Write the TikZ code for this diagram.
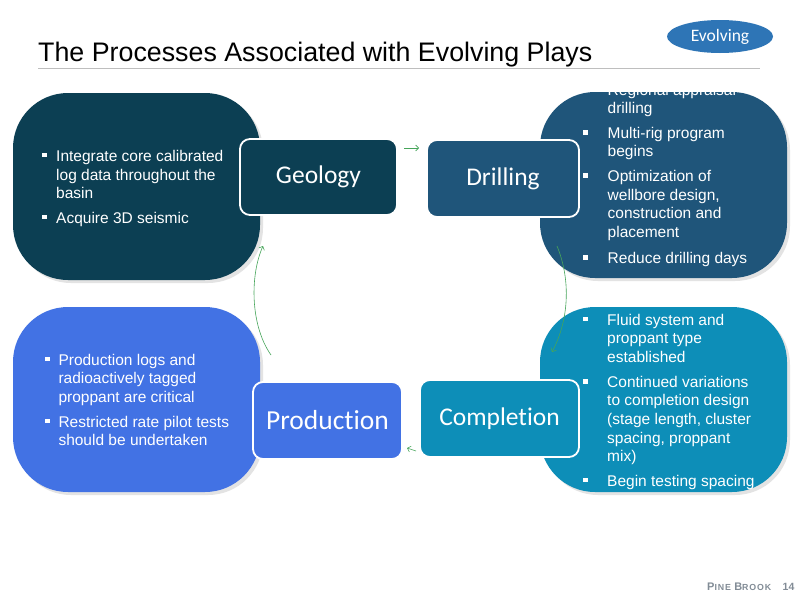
\documentclass[tikz,border=0pt]{standalone}
\usepackage{fontspec}
\setmainfont{Liberation Sans}
\newfontfamily\labfont[Ligatures=NoCommon]{Carlito}
\newfontfamily\footfont[LetterSpace=10]{Liberation Sans}
\usetikzlibrary{shadows,arrows.meta,shapes.geometric}
\definecolor{geoc}{RGB}{12,63,83}
\definecolor{drlc}{RGB}{31,85,122}
\definecolor{cmpc}{RGB}{13,142,184}
\definecolor{prdc}{RGB}{66,114,228}
\definecolor{evoc}{RGB}{46,117,182}
\definecolor{arrc}{RGB}{70,165,90}
\definecolor{rulec}{RGB}{190,190,190}
\definecolor{footc}{RGB}{130,140,150}
\newcommand\blines[4]{%
  \foreach \ln [count=\k from 0] in {#4}{%
    \node[bodytxt, anchor=base west] (#3-\k) at (#1, #2+\k*18.6) {\ln};}}
\begin{document}
\begin{tikzpicture}[x=1pt,y=-1pt,
  bigbox/.style={draw=none, rounded corners=55pt, inner sep=0pt,
    drop shadow={opacity=0.22, shadow xshift=3pt, shadow yshift=-3pt}},
  labbox/.style={draw=white, line width=1.8pt, rounded corners=10pt, inner sep=0pt,
    text=white, font=\labfont\fontsize{25.5}{30}\selectfont},
  bodytxt/.style={inner sep=0pt, text=white, font=\fontsize{15.5}{18.6}\selectfont},
  bul/.style={fill=white, draw=none, minimum size=4.5pt, inner sep=0pt},
  flow/.style={draw=arrc, line width=0.6pt, -{Straight Barb[length=3pt,width=6pt]}}]
\useasboundingbox (0,0) rectangle (800,600);
\fill[white] (0,0) rectangle (800,600);

% title
\node[anchor=base west, inner sep=0pt, font=\fontsize{26.8}{30}\selectfont] (title) at (38,61)
  {The Processes Associated with Evolving Plays};
\coordinate (rl) at (38,68);
\coordinate (rr) at (760,68);
\draw[rulec, line width=1pt] (rl) -- (rr);

\node[ellipse, fill=evoc, minimum width=106pt, minimum height=33pt, inner sep=0pt,
  text=white, font=\labfont\fontsize{17.5}{20}\selectfont] (evo) at (720,36.5) {Evolving};

% big boxes
\node[bigbox, fill=geoc, minimum width=247pt, minimum height=187pt] (geobig) at (136.5,186.5) {};
\node[bigbox, fill=prdc, minimum width=247pt, minimum height=185pt] (prdbig) at (136.5,399.5) {};
\node[bigbox, fill=drlc, minimum width=247pt, minimum height=186pt] (drlbig) at (663.5,185) {};
\node[bigbox, fill=cmpc, minimum width=247pt, minimum height=185pt] (cmpbig) at (663.5,399.5) {};

% label boxes
\node[labbox, fill=geoc, minimum width=157pt, minimum height=76pt] (geo) at (318.5,177) {Geology};
\node[labbox, fill=drlc, minimum width=152pt, minimum height=77pt] (drl) at (503,178.5) {Drilling};
\node[labbox, fill=prdc, minimum width=149pt, minimum height=77pt,
  font=\labfont\fontsize{27.5}{32}\selectfont] (prd) at (327.5,420.5) {Production};
\node[labbox, fill=cmpc, minimum width=159pt, minimum height=77pt] (cmp) at (499.5,418.5) {Completion};

% geology text
\node[bul] (gb1) at (44.5,155.2) {};
\blines{56}{161.7}{g1}{Integrate core calibrated,log data throughout the,basin}
\node[bul] (gb2) at (44.5,216.8) {};
\blines{56}{223.3}{g2}{Acquire 3D seismic}

% production text
\node[bul] (pb1) at (47.5,358.8) {};
\blines{58.3}{365}{p1}{Production logs and,radioactively tagged,proppant are critical}
\node[bul] (pb2) at (47.5,421.1) {};
\blines{58.3}{427.3}{p2}{Restricted rate pilot tests,should be undertaken}

% drilling text
\node[bul] (db1) at (585.5,89) {};
\blines{607.5}{95}{d1}{Regional appraisal,drilling}
\node[bul] (db2) at (585.5,132.3) {};
\blines{607.5}{138.3}{d2}{Multi-rig program,begins}
\node[bul] (db3) at (585.5,175.7) {};
\blines{607.5}{181.7}{d3}{Optimization of,{wellbore design,},construction and,placement}
\node[bul] (db4) at (585.5,257.5) {};
\blines{607.5}{263.5}{d4}{Reduce drilling days}

% completion text
\node[bul] (cb1) at (585.5,319) {};
\blines{607}{325}{c1}{Fluid system and,proppant type,established}
\node[bul] (cb2) at (585.5,381.3) {};
\blines{607}{387.3}{c2}{Continued variations,to completion design,{(stage length, cluster},{spacing, proppant},mix)}
\node[bul] (cb3) at (585.5,480) {};
\blines{607}{486}{c3}{Begin testing spacing}

% connectors
\coordinate (a1s) at (404,148);
\coordinate (a1e) at (419,148);
\draw[flow] (a1s) -- (a1e);
\coordinate (a2s) at (557,246);
\coordinate (a2e) at (552,352);
\draw[flow] (a2s) .. controls (571,280) and (569,320) .. (a2e);
\coordinate (a3s) at (416,451);
\coordinate (a3e) at (407,448);
\draw[flow] (a3s) -- (a3e);
\coordinate (a4s) at (271,355);
\coordinate (a4e) at (263,246);
\draw[flow] (a4s) .. controls (250,325) and (250,275) .. (a4e);

% footer
\node[anchor=base west, inner sep=0pt, text=footc, font=\footfont\bfseries] (foot) at (707,590.5)
  {{\fontsize{11}{12}\selectfont P}{\fontsize{8.8}{12}\selectfont INE }{\fontsize{11}{12}\selectfont B}{\fontsize{8.8}{12}\selectfont ROOK}};
\node[anchor=base west, inner sep=0pt, text=footc, font=\fontsize{10.5}{12}\selectfont\bfseries] (pg) at (782.5,590.5) {14};
\end{tikzpicture}
\end{document}
